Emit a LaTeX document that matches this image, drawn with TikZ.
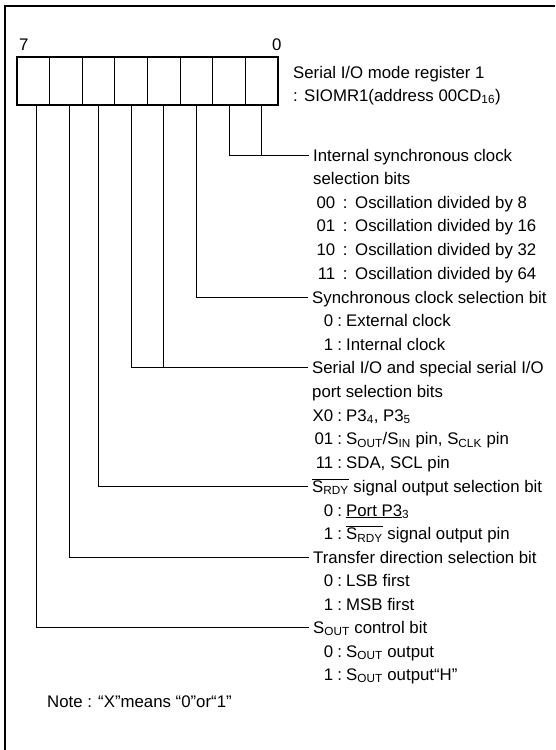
\documentclass[tikz,border=0pt]{standalone}
\usepackage{fontspec}
\setmainfont{Liberation Sans}
\newcommand{\sbs}[1]{\textsubscript{#1}}
\newcommand{\srdyo}{\ensuremath{\overline{\hbox{S\sbs{RDY}}}}}
\newcommand{\kv}[3]{\makebox[20pt][r]{#2}\makebox[#1][c]{:}#3}
\begin{document}
\begin{tikzpicture}[x=1pt,y=-1pt,
  txt/.style={anchor=west,inner sep=0pt,text height=12pt,text depth=0pt,font=\fontsize{16.8}{19}\selectfont},
  cell/.style={draw,line width=0.8pt,minimum width=32.625pt,minimum height=48pt,inner sep=0pt},
  frame/.style={line width=2pt},
  conn/.style={line width=0.8pt}]
\useasboundingbox (0,0) rectangle (555,750);
% frame
\draw[frame] (5,750) -- (5,6) -- (555,6);
% register cells
\foreach \i in {0,...,7}
  \node[cell] (b\i) at ({17+32.625*(7-\i)+16.3125},81) {};
\draw[line width=2pt] (b7.north west) rectangle (b0.south east);
\node[txt] (n7) at (19,44) {7};
\node[txt] (n0) at (272,44) {0};
\node[txt] (title1) at (293,72) {Serial I/O mode register 1};
\node[txt] (title2) at (293,95) {: SIOMR1(address 00CD\sbs{16})};
% texts
\node[txt] (h0) at (313,155) {Internal synchronous clock};
\node[txt] (h0b) at (313,178.6) {selection bits};
\node[txt] (a00) at (315,202.2) {\kv{20pt}{00}{Oscillation divided by 8}};
\node[txt] (a01) at (315,225.8) {\kv{20pt}{01}{Oscillation divided by 16}};
\node[txt] (a10) at (315,249.4) {\kv{20pt}{10}{Oscillation divided by 32}};
\node[txt] (a11) at (315,273) {\kv{20pt}{11}{Oscillation divided by 64}};
\node[txt] (h2) at (312,297) {Synchronous clock selection bit};
\node[txt] (c0) at (313,320.5) {\kv{13pt}{0}{External clock}};
\node[txt] (c1) at (313,344) {\kv{13pt}{1}{Internal clock}};
\node[txt] (h34) at (312,367) {Serial I/O and special serial I/O};
\node[txt] (h34b) at (312,391) {port selection bits};
\node[txt] (d0) at (313,415) {\kv{13pt}{X0}{P3\sbs{4}, P3\sbs{5}}};
\node[txt] (d1) at (313,438.5) {\kv{13pt}{01}{S\sbs{OUT}/S\sbs{IN} pin, S\sbs{CLK} pin}};
\node[txt] (d2) at (313,462) {\kv{13pt}{11}{SDA, SCL pin}};
\node[txt] (h5) at (312,486) {\srdyo{} signal output selection bit};
\node[txt] (e0) at (313,510) {\kv{13pt}{0}{\underline{Port P3}\sbs{3}}};
\node[txt] (e1) at (313,533.5) {\kv{13pt}{1}{\srdyo{} signal output pin}};
\node[txt] (h6) at (313,557) {Transfer direction selection bit};
\node[txt] (f0) at (313,580.5) {\kv{13pt}{0}{LSB first}};
\node[txt] (f1) at (313,604) {\kv{13pt}{1}{MSB first}};
\node[txt] (h7) at (313,627) {S\sbs{OUT} control bit};
\node[txt] (g0) at (313,651) {\kv{13pt}{0}{S\sbs{OUT} output}};
\node[txt] (g1) at (313,674) {\kv{13pt}{1}{S\sbs{OUT} output“H”}};
\node[txt] (note) at (47,701) {Note : “X”means “0”or“1”};
% connectors
\draw[conn] (b0.south) -- (b0.south |- h0.west);
\draw[conn] (b1.south) |- ([xshift=-4pt]h0.west);
\draw[conn] (b2.south) |- ([xshift=-4pt]h2.west);
\draw[conn] (b3.south) -- (b3.south |- h34.west);
\draw[conn] (b4.south) |- ([xshift=-4pt]h34.west);
\draw[conn] (b5.south) |- ([xshift=-4pt]h5.west);
\draw[conn] ([xshift=3pt]b6.south) |- ([xshift=-4pt]h6.west);
\draw[conn] ([xshift=3pt]b7.south) |- ([xshift=-4pt]h7.west);
\end{tikzpicture}
\end{document}
